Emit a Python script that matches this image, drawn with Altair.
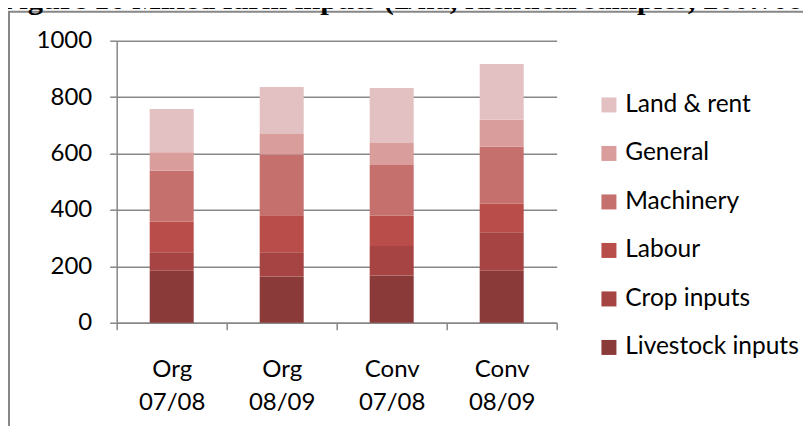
import altair as alt
import pandas as pd

title_text = "Figure 16 Mixed farm inputs (£/ha, identical samples, 2007/08–2008/09)"
groups = ["Org 07/08", "Org 08/09", "Conv 07/08", "Conv 08/09"]
components = ["Livestock inputs", "Crop inputs", "Labour", "Machinery", "General", "Land & rent"]
livestock = [184, 164, 167, 184]
crop = [66, 86, 105, 137]
labour = [108, 131, 107, 101]
machinery = [181, 215, 180, 202]
general = [65, 73, 78, 96]
land = [154, 167, 195, 197]
colors = ["#8B3A3A", "#A54442", "#B84D4A", "#C6706E", "#D99D9C", "#E3C1C2"]
y_ticks = [0, 200, 400, 600, 800, 1000]

series = [livestock, crop, labour, machinery, general, land]
rows = []
for ci, (comp, vals) in enumerate(zip(components, series)):
    for g, v in zip(groups, vals):
        rows.append({"group": g, "component": comp, "value": v, "order": ci})
df = pd.DataFrame(rows)

FONT = "Lato"
GRAY = "#878787"

bars = alt.Chart(df).mark_bar(size=44).encode(
    x=alt.X("group:N", sort=groups, title=None,
            scale=alt.Scale(paddingInner=0, paddingOuter=0),
            axis=alt.Axis(labelAngle=0, labelExpr="split(datum.label, ' ')",
                          labelFontSize=24, labelFont=FONT, labelColor="black",
                          labelPadding=28, labelLineHeight=33,
                          tickBand="extent", tickSize=7, tickColor=GRAY,
                          domainColor=GRAY, domainWidth=1.5, tickWidth=1.5)),
    y=alt.Y("value:Q", stack="zero", title=None,
            scale=alt.Scale(domain=[0, 1000], nice=False),
            axis=alt.Axis(values=y_ticks, format="d", labelFontSize=24, labelFont=FONT,
                          labelColor="black", labelPadding=18, tickSize=7,
                          tickColor=GRAY, domainColor=GRAY, gridColor=GRAY,
                          domainWidth=1.5, tickWidth=1.5, gridWidth=1.5, grid=True)),
    color=alt.Color("component:N",
                    scale=alt.Scale(domain=components[::-1], range=colors[::-1]),
                    legend=alt.Legend(title=None, orient="none", legendX=480, legendY=52,
                                      symbolType="square", symbolSize=225,
                                      symbolStrokeWidth=0, labelFontSize=24.5,
                                      labelFont=FONT, labelColor="black", labelLimit=400,
                                      labelOffset=4, rowPadding=23.5, padding=0)),
    order=alt.Order("order:Q", sort="ascending"),
)

one = pd.DataFrame({"t": [title_text]})
frame = alt.Chart(one).mark_rect(fillOpacity=0, stroke=GRAY, strokeWidth=2).encode(
    x=alt.value(-107.7), x2=alt.value(800), y=alt.value(-29), y2=alt.value(500)
)
title = alt.Chart(one).mark_text(
    font="Liberation Serif", fontWeight="bold", fontSize=30.5, align="left",
    baseline="alphabetic", color="black"
).encode(text="t:N", x=alt.value(-116), y=alt.value(-31.7))

chart = alt.layer(frame, title, bars).properties(
    width=440, height=282,
    autosize=alt.AutoSizeParams(type="none"),
    padding={"left": 108.7, "top": 32.7, "right": 246, "bottom": 103},
).configure_view(stroke=None)

chart.save("out.html", embed_options={"renderer": "svg", "actions": False})
